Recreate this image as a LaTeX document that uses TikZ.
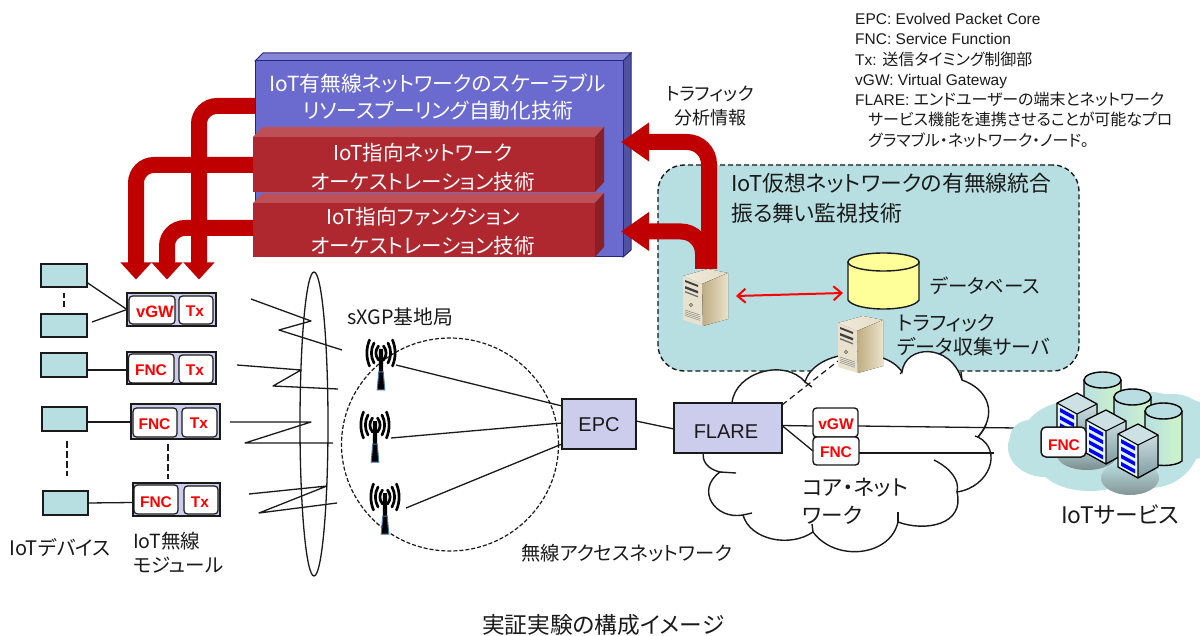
\documentclass[tikz,border=0pt]{standalone}
\usepackage{fontspec}
\setmainfont[RawFeature=+palt]{Noto Sans CJK JP}
\newfontfamily\arl{Liberation Sans}
\usetikzlibrary{fit,arrows.meta,calc,shapes.geometric}
\definecolor{bfront}{HTML}{6B6BCF}
\definecolor{btop}{HTML}{8686D9}
\definecolor{bside}{HTML}{5252A3}
\definecolor{bedge}{HTML}{26267A}
\definecolor{rfront}{HTML}{B0282F}
\definecolor{rtop}{HTML}{BD5056}
\definecolor{rside}{HTML}{8A2025}
\definecolor{arrowred}{HTML}{C00000}
\definecolor{teal}{HTML}{B7DFE2}
\definecolor{lilac}{HTML}{CCCCEC}
\definecolor{ink}{HTML}{1A1A1A}
\newcommand\fs[2]{\fontsize{#1pt}{#2pt}\selectfont}
\newcommand\bx[6][]{\path (#3,#4) coordinate (#2a) (#5,#6) coordinate (#2b);
  \node[fit=(#2a)(#2b),inner sep=0pt,outer sep=0pt,#1] (#2) {};}
\tikzset{
  x=1pt,y=-1pt,
  thinline/.style={draw=ink,line width=1.3pt},
  devbox/.style={draw=ink,line width=1.3pt,fill=teal},
  modbox/.style={draw=ink,line width=1.3pt,fill=lilac},
  corebox/.style={draw=ink,line width=1.4pt,fill=lilac},
  chip/.style={draw=ink,line width=1.2pt,fill=white,rounded corners=3.5pt},
  chiptext/.style={text=red,font=\arl\bfseries\fs{15.5}{16}},
  fatarrow/.style={draw=arrowred,line width=16pt,rounded corners=18pt,
    -{Triangle[width=30pt,length=17pt]}},
  fatarrowb/.style={draw=arrowred,line width=16pt,rounded corners=22pt,
    -{Triangle[width=37pt,length=28pt]}},
  lbl/.style={text=ink,inner sep=0pt},
  whitetext/.style={text=white,inner sep=0pt,align=center,font=\fs{20.5}{29}},
  antenna/.pic={
    \foreach \r/\h in {14/13,9.5/10,5/7}{
      \draw[black,line width=2.7pt,line cap=round] (-\r+2.5,-\h) .. controls (-\r-1,-\h/3) and (-\r-1,\h/3) .. (-\r+2.5,\h);
      \draw[black,line width=2.7pt,line cap=round] (\r-2.5,-\h) .. controls (\r+1,-\h/3) and (\r+1,\h/3) .. (\r-2.5,\h);
    }
    \fill[black] (-2,-4) -- (2,-4) -- (2.2,19) -- (-2.2,19) -- cycle;
    \draw[draw={rgb,255:red,70;green,120;blue,170},fill=black,line width=1pt] (-2.2,19) -- (2.2,19) -- (3.8,37) -- (-3.8,37) -- cycle;
  },
  tower/.pic={
    \fill[left color={rgb,255:red,240;green,234;blue,218},right color={rgb,255:red,228;green,220;blue,196}] (0,10) -- (25,3) -- (45,7) -- (19,18) -- cycle;
    \fill[color={rgb,255:red,232;green,225;blue,205}] (0,10) -- (19,18) -- (20,60) -- (0,54) -- cycle;
    \fill[left color={rgb,255:red,190;green,172;blue,130},right color={rgb,255:red,235;green,226;blue,202}] (19,18) -- (45,7) -- (45,53) -- (20,60) -- cycle;
    \fill[black!75] (2,14) -- (15,19) -- (15,21) -- (2,16) -- cycle;
    \fill[black!75] (2,20) -- (15,25) -- (15,27.5) -- (2,22.5) -- cycle;
    \fill[black!55] (2,25) -- (15,30) -- (15,31.5) -- (2,26.5) -- cycle;
    \draw[black!60,line width=0.6pt] (8,39) circle (1.6);
    \foreach \k in {0,1.8,3.6,5.4}{\draw[black!45,line width=0.5pt] (2,44+\k) -- (17,49+\k);}
  },
  rack/.pic={
    \fill[color={rgb,255:red,225;green,245;blue,248}] (0,0) -- (20,11) -- (20,44) -- (0,33) -- cycle;
    \fill[top color={rgb,255:red,205;green,222;blue,225},bottom color={rgb,255:red,125;green,155;blue,160}] (20,11) -- (40,1) -- (40,33) -- (20,44) -- cycle;
    \fill[color={rgb,255:red,205;green,225;blue,228}] (0,0) -- (20,-10) -- (40,1) -- (20,11) -- cycle;
    \foreach \k in {0,7.6,15.2,22.8}{\fill[blue] (3,5+\k) -- (17,12.6+\k) -- (17,16.6+\k) -- (3,9+\k) -- cycle;}
    \draw[black,line width=1.3pt,line join=round] (0,0) -- (20,-10) -- (40,1) -- (40,33) -- (20,44) -- (0,33) -- cycle;
    \draw[black,line width=1.1pt,line join=round] (0,0) -- (20,11) -- (40,1) (20,11) -- (20,44);
  },
  drum/.pic={
    \fill[left color={rgb,255:red,185;green,222;blue,226},right color={rgb,255:red,205;green,245;blue,200}] (0,0) -- (0,50) .. controls (8,56) and (30,56) .. (37,50) -- (37,0) -- cycle;
    \draw[black,line width=1.4pt] (0,0) -- (0,50) .. controls (8,56) and (30,56) .. (37,50) -- (37,0);
    \draw[black,line width=1.4pt,fill={rgb,255:red,185;green,222;blue,226}] (18.5,0) ellipse (18.5 and 8);
  },
}
\begin{document}
\begin{tikzpicture}
\useasboundingbox (0,0) rectangle (1200,636);
\fill[white] (0,0) rectangle (1200,636);

% ---- monitoring area
\bx[draw=ink,line width=1.4pt,dash pattern=on 5pt off 3pt,fill=teal,rounded corners=26pt]{room}{658}{165}{1079}{371}
\node[lbl,anchor=west,font=\fs{21.8}{30},align=left] (roomtxt) at (731,198) {IoT仮想ネットワークの有無線統合\\振る舞い監視技術};

% ---- core cloud
\draw[draw=ink,line width=1.4pt,fill=white] (732,403) .. controls (735,372) and (785,358) .. (805,382)
  .. controls (815,348) and (885,345) .. (902,372)
  .. controls (905,345) and (950,342) .. (962,380)
  .. controls (990,390) and (997,415) .. (978,437)
  .. controls (1003,450) and (990,487) .. (957,492)
  .. controls (965,525) and (925,532) .. (898,522)
  .. controls (890,557) and (835,562) .. (813,532)
  .. controls (790,548) and (750,540) .. (743,515)
  .. controls (715,520) and (695,490) .. (720,472)
  .. controls (703,468) and (700,455) .. (706,448) -- cycle;
\draw[draw=ink,line width=1.4pt] (934,460) .. controls (950,468) and (960,480) .. (957,492);
\draw[draw=ink,line width=1.4pt] (975,436) -- (978,437) .. controls (982,432) and (985,428) .. (986,424);
\draw[draw=ink,line width=1.4pt] (962,380) -- (961,372);
\draw[draw=ink,line width=1.4pt] (902,372) -- (900,374);
\draw[draw=ink,line width=1.4pt] (805,382) -- (812,387);
\draw[draw=ink,line width=1.4pt] (898,522) -- (898,512);
\draw[draw=ink,line width=1.4pt] (813,532) -- (812,524);
\draw[draw=ink,line width=1.4pt] (743,515) -- (752,513);
\draw[draw=ink,line width=1.4pt] (720,472) -- (736,473);

% ---- upper 3D boxes
\fill[btop,draw=bedge,line width=1pt] (255,61) -- (263,53) -- (631,53) -- (623,61) -- cycle;
\fill[bside,draw=bedge,line width=1pt] (623,61) -- (631,53) -- (631,250) -- (623,257) -- cycle;
\bx[fill=bfront,draw=bedge,line width=1pt]{blue}{255}{61}{623}{257}
\node[whitetext,font=\fs{20.8}{27}] (bluetxt) at (438,97) {IoT有無線ネットワークのスケーラブル\\リソースプーリング自動化技術};
\fill[rtop] (253,137) -- (263,127) -- (604,127) -- (595,137) -- cycle;
\fill[rside] (595,137) -- (604,127) -- (604,182) -- (595,192) -- cycle;
\bx[fill=rfront]{redA}{253}{137}{595}{192}
\node[whitetext] (redAtxt) at (423,167) {IoT指向ネットワーク\\オーケストレーション技術};
\fill[rtop] (253,203) -- (263,193) -- (604,193) -- (595,203) -- cycle;
\fill[rside] (595,203) -- (604,193) -- (604,247) -- (595,257) -- cycle;
\bx[fill=rfront]{redB}{253}{203}{595}{257}
\node[whitetext] (redBtxt) at (423,231) {IoT指向ファンクション\\オーケストレーション技術};

% ---- devices
\bx[devbox]{devA}{41}{264}{87}{287}
\bx[devbox]{devB}{41}{314}{87}{337}
\bx[devbox]{devC}{41}{353}{87}{377}
\bx[devbox]{devD}{42}{407}{87}{431}
\bx[devbox]{devE}{43}{491}{88}{515}
\path (devA.south) ++(0,6) coordinate (da) (devB.north) ++(0,-7) coordinate (db2);
\draw[ink,line width=2pt,dash pattern=on 5.5pt off 3pt] (da) -- (db2);
\path (devD.south) ++(2.5,10) coordinate (dc) (devE.north) ++(1.5,-15) coordinate (dd);
\draw[ink,line width=2pt,dash pattern=on 7pt off 3pt] (dc) -- (dd);

% ---- radio modules
\bx[modbox,line width=1.6pt]{modA}{127}{293}{216}{326}
\bx[chip]{vgwA}{129}{296}{175}{324}
\node[chiptext,font=\arl\bfseries\fs{16.5}{16}] (vgwAt) at (155,312) {vGW};
\bx[chip]{txA}{179}{296}{213}{324}
\node[chiptext] (txAt) at (195,311) {Tx};
\bx[modbox]{modB}{127}{352}{216}{384}
\bx[chip]{fncB}{128.5}{354}{174}{383}
\node[chiptext] (fncBt) at (151,370) {FNC};
\bx[chip]{txB}{179}{355}{213}{383}
\node[chiptext] (txBt) at (195,370) {Tx};
\bx[modbox]{modC}{131}{404}{220}{439}
\bx[chip]{fncC}{133}{408}{177}{437}
\node[chiptext] (fncCt) at (154.5,424) {FNC};
\bx[chip]{txC}{182}{408}{217}{437}
\node[chiptext] (txCt) at (199,423) {Tx};
\bx[modbox]{modD}{133}{483}{220}{516}
\bx[chip]{fncD}{134}{485}{178}{514}
\node[chiptext] (fncDt) at (156,502) {FNC};
\bx[chip]{txD}{184}{486}{218}{514}
\node[chiptext] (txDt) at (200,502) {Tx};
\draw[thinline] ([yshift=-7pt]devA.east) -- (modA.west);
\draw[thinline] ([xshift=5pt]devB.north east) ++(0,8) -- (modA.west);
\draw[thinline] ([yshift=-5pt]devC.east) -- ([yshift=-2pt]modB.west);
\draw[thinline] ([yshift=-3pt]devD.east) -- ([yshift=-0.5pt]modC.west);
\draw[thinline] (devE.east) -- ([yshift=-3pt]modD.west);
\path (modC.south) ++(-7.5,5) coordinate (mc) (modD.north) ++(-8.5,-4) coordinate (md);
\draw[ink,line width=2pt,dash pattern=on 7pt off 3pt] (mc) -- (md);

% ---- radio link bundle
\node[draw=ink,line width=1.3pt,ellipse,inner sep=0pt,minimum width=28pt,minimum height=304pt] (bundle) at (314,424) {};
\draw[thinline,line join=round] (251,299) -- (311,321) -- (279,330) -- (342,350);
\draw[thinline,line join=round] (237,365) -- (301,370) -- (273,386) -- (338,389);
\draw[thinline,line join=round] (230,422) -- (311,422) -- (245,443) -- (333,443);
\draw[thinline,line join=round] (249,494) -- (327,486) -- (259,513) -- (337,503);

% ---- radio access network
\node[draw=ink,line width=1.2pt,ellipse,inner sep=0pt,minimum width=217pt,minimum height=213pt,dash pattern=on 4pt off 2pt] (ran) at (450,444.5) {};
\bx{antA}{367}{340}{396}{390}
\bx{antB}{361}{412}{390}{460}
\bx{antC}{371}{484}{400}{534}
\bx[corebox]{epc}{562}{399}{636}{449}
\node[lbl,font=\arl\fs{20}{20}] (epct) at (599,424.5) {EPC};
\bx[corebox]{flare}{674}{403}{782}{453}
\node[lbl,font=\arl\fs{20}{20}] (flaret) at (726,432) {FLARE};
\draw[thinline] (antA.east) -- ([yshift=-7pt]epc.north west);
\draw[thinline] ([xshift=1pt,yshift=-2pt]antB.east) -- ([yshift=1pt]epc.west);
\draw[thinline] ([xshift=6pt,yshift=1pt]antC.east) -- ([yshift=-20pt]epc.west);
\pic at (381,353) {antenna};
\pic at (375,425) {antenna};
\pic at (385,497) {antenna};
\draw[thinline] ([yshift=3pt]epc.east) -- ([yshift=-1pt]flare.west);

% ---- virtual gateway, functions in the core
\bx[chip,line width=1.4pt]{vgwB}{813}{408}{858}{437}
\node[chiptext] (vgwBt) at (836,424) {vGW};
\bx[chip,line width=1.4pt]{fncE}{813}{437}{859}{465}
\node[chiptext] (fncEt) at (836,452) {FNC};
\draw[thinline] ([yshift=2.5pt]flare.east) -- ([yshift=-3.5pt]vgwB.west);
\draw[thinline] ([yshift=2.5pt]flare.east) -- (fncE.west);
\coordinate (extA) at (1017,428);
\coordinate (extB) at (994,453);
\draw[thinline] ([yshift=-3.5pt]vgwB.east) -- (extA);
\draw[thinline] ([yshift=-2pt]fncE.east) -- (extB);

% ---- IoT services
\begin{scope}
\fill[teal!92!white] (1045,447) ellipse (37 and 30);
\fill[teal!92!white] (1080,432) ellipse (55 and 32);
\fill[teal!92!white] (1150,440) ellipse (50 and 48);
\fill[teal!92!white] (1180,430) ellipse (40 and 32);
\fill[teal!92!white] (1090,465) ellipse (50 and 26);
\fill[teal!92!white] (1030,438) ellipse (20 and 18);
\fill[teal!92!white] (1120,410) ellipse (40 and 16);
\fill[teal!92!white] (1172,410) ellipse (28 and 16);
\path[top color=teal!92!white,bottom color=teal!50!black!80!white] (1087,455) ellipse (30 and 15);
\path[top color=teal!92!white,bottom color=teal!55!black!80!white] (1130,478) ellipse (29 and 17);
\end{scope}
\pic at (1084,380) {drum};
\pic at (1114,397) {drum};
\pic at (1145,411) {drum};
\pic at (1057,403) {rack};
\pic at (1086,420) {rack};
\pic at (1118,434) {rack};
\bx[chip,line width=1.5pt,rounded corners=5pt]{fncF}{1041}{427}{1086}{457}
\node[chiptext] (fncFt) at (1064,445) {FNC};

% ---- data base, servers
\bx{db}{848}{253}{919}{309}
\draw[ink,line width=1.4pt,fill={rgb,255:red,255;green,255;blue,153}] (848,262) -- (848,300) .. controls (855,312) and (912,312) .. (919,300) -- (919,262) -- cycle;
\draw[ink,line width=1.4pt,fill={rgb,255:red,255;green,255;blue,153}] (883.5,262) ellipse (35.5 and 9);
\bx{srvA}{683}{266}{729}{323}
\bx{srvB}{838}{310}{884}{375}
\draw[ink,line width=1.2pt,dash pattern=on 6pt off 4pt] ([yshift=-2pt]flare.north east) -- ([yshift=14pt]srvB.south west);
\pic at (683,266) {tower};
\pic at (838,313) {tower};

% ---- fat arrows
\coordinate (tipA) at (199,279.5);
\coordinate (tipB) at (136,279.5);
\coordinate (tipC) at (167,279.5);
\draw[fatarrow] ([yshift=53pt]blue.west) -| (tipA);
\draw[fatarrow] (redA.west |- 0,165) -| (tipB);
\draw[fatarrow] (redB.west |- 0,228) -| (tipC);
\coordinate (tipD) at (621,142);
\coordinate (tipE) at (621,231.5);
\coordinate (stD) at (709,269);
\coordinate (stE) at (703,269);
\draw[fatarrowb] (stD) |- (tipD);
\draw[fatarrowb] (stE) |- (tipE);
\draw[red,line width=2pt,{Straight Barb[length=8pt,width=14pt]}-{Straight Barb[length=8pt,width=14pt]}] ([xshift=7pt,yshift=-1.5pt]srvA.east) -- ([xshift=-5pt,yshift=-12pt]db.west);

% ---- labels
\node[lbl,font=\fs{18}{24},align=center] (trtxt) at (710,106) {トラフィック\\分析情報};
\node[lbl,anchor=west,font=\fs{19.5}{18}] (dbt) at (930,286) {データベース};
\node[lbl,anchor=west,font=\fs{20}{24},align=left] (trdata) at (897,335) {トラフィック\\データ収集サーバ};
\node[lbl,anchor=west,font=\fs{19.8}{16}] (sxgp) at (347,317) {sXGP基地局};
\node[lbl,anchor=west,font=\fs{19.3}{18}] (rant) at (521,553) {無線アクセスネットワーク};
\node[lbl,anchor=west,font=\fs{21.6}{28},align=left] (coret) at (802,501) {コア・ネット\\ワーク};
\node[lbl,anchor=west,font=\fs{22.8}{20}] (iots) at (1061,515) {IoTサービス};
\node[lbl,anchor=west,font=\fs{20}{18}] (iotd) at (9,548) {IoTデバイス};
\node[lbl,anchor=west,font=\fs{19.5}{24},align=left] (iotm) at (133,553) {IoT無線\\モジュール};
\node[lbl,anchor=west,font=\fs{22.7}{22}] (capt) at (482,625) {実証実験の構成イメージ};
\node[lbl,anchor=north west,font=\fs{16}{20.3},align=left] (legend) at (855,13) {{\arl\fs{15.5}{20.3}EPC: Evolved Packet Core}\\{\arl\fs{15.5}{20.3}FNC: Service Function}\\{\arl\fs{15.5}{20.3}Tx: }送信タイミング制御部\\{\arl\fs{15.5}{20.3}vGW: Virtual Gateway}\\{\arl\fs{15.5}{20.3}FLARE: }エンドユーザーの端末とネットワーク\\\hspace*{13pt}サービス機能を連携させることが可能なプロ\\\hspace*{13pt}グラマブル・ネットワーク・ノード。};
\end{tikzpicture}
\end{document}
